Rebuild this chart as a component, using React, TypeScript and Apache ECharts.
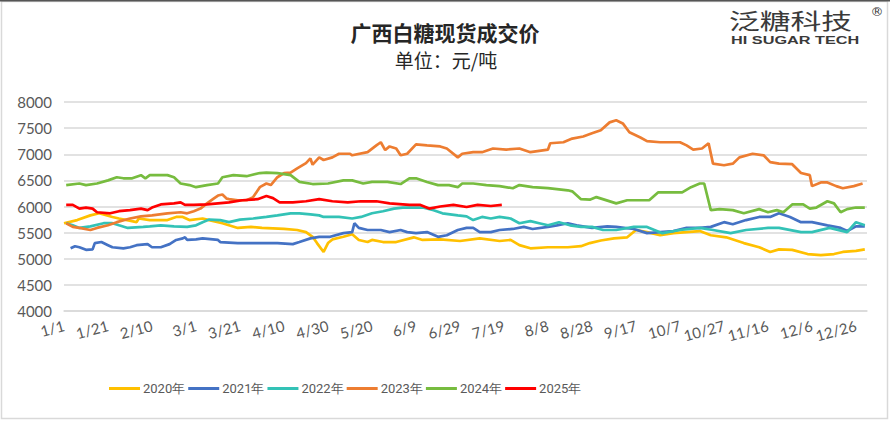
import React, { useEffect, useRef } from "react";
import * as echarts from "echarts";

// Leap-year calendar (366 days), labels every 20 days
const MONTH_DAYS = [31, 29, 31, 30, 31, 30, 31, 31, 30, 31, 30, 31];
const categories: string[] = [];
MONTH_DAYS.forEach((n, m) => {
  for (let d = 1; d <= n; d++) categories.push(`${m + 1}/${d}`);
});

const yTicks = [4000, 8000, 500]; // min, max, interval

const seriesNames = ["2020年", "2021年", "2022年", "2023年", "2024年", "2025年"];
const seriesColors = ["#FFC000", "#4472C4", "#33C2B6", "#ED7D31", "#77BC3F", "#FF0000"];

// [dayIndex, price]
const y2020: [number, number][] = [
  [0, 5680], [6, 5740], [12, 5830], [16, 5870], [22, 5800], [25, 5770], [33, 5700], [34, 5770],
  [39, 5740], [47, 5740], [51, 5800], [54, 5800], [57, 5740], [63, 5770], [66, 5740], [72, 5680],
  [79, 5590], [85, 5610], [90, 5590], [100, 5570], [106, 5550], [110, 5510], [113, 5420], [115, 5300],
  [118, 5130], [120, 5300], [122, 5370], [127, 5420], [131, 5470], [134, 5360], [138, 5320], [140, 5360],
  [145, 5320], [151, 5320], [159, 5410], [163, 5360], [171, 5370], [180, 5340], [189, 5390], [198, 5340],
  [203, 5360], [207, 5260], [212, 5200], [220, 5220], [229, 5220], [235, 5240], [239, 5300], [244, 5350],
  [250, 5390], [256, 5410], [260, 5550], [265, 5510], [271, 5450], [277, 5490], [283, 5510], [289, 5530],
  [294, 5450], [301, 5410], [309, 5300], [316, 5220], [321, 5130], [325, 5180], [331, 5170], [338, 5090],
  [344, 5070], [350, 5090], [354, 5130], [360, 5150], [364, 5180],
];

const y2021: [number, number][] = [
  [3, 5200], [5, 5240], [7, 5220], [10, 5170], [13, 5180], [14, 5300], [17, 5320], [20, 5260],
  [22, 5220], [27, 5200], [30, 5220], [33, 5260], [38, 5280], [40, 5220], [44, 5220], [48, 5280],
  [51, 5360], [54, 5390], [55, 5410], [56, 5360], [60, 5370], [63, 5390], [70, 5360], [71, 5320],
  [79, 5300], [89, 5300], [97, 5300], [104, 5280], [107, 5320], [112, 5390], [116, 5420], [121, 5420],
  [127, 5490], [131, 5510], [132, 5680], [134, 5590], [138, 5550], [144, 5550], [148, 5510], [153, 5550],
  [156, 5510], [160, 5490], [165, 5510], [170, 5420], [174, 5450], [179, 5550], [183, 5590], [186, 5590],
  [189, 5510], [194, 5510], [198, 5550], [204, 5570], [209, 5610], [213, 5570], [220, 5610], [224, 5640],
  [229, 5680], [233, 5640], [240, 5590], [247, 5620], [251, 5610], [259, 5570], [265, 5490], [271, 5510],
  [277, 5530], [283, 5590], [289, 5590], [294, 5610], [300, 5700], [304, 5660], [310, 5740], [316, 5800],
  [321, 5800], [325, 5870], [330, 5800], [335, 5700], [340, 5700], [347, 5640], [353, 5590], [356, 5530],
  [360, 5620], [364, 5620],
];

const y2022: [number, number][] = [
  [1, 5680], [4, 5640], [7, 5590], [12, 5620], [18, 5680], [22, 5680], [25, 5640], [29, 5590],
  [36, 5610], [39, 5620], [44, 5640], [50, 5620], [56, 5610], [60, 5640], [63, 5700], [66, 5750],
  [71, 5740], [75, 5700], [80, 5750], [86, 5770], [92, 5800], [97, 5830], [103, 5870], [107, 5870],
  [112, 5850], [116, 5830], [118, 5800], [125, 5800], [131, 5770], [135, 5800], [140, 5870], [145, 5910],
  [150, 5960], [154, 5980], [159, 5980], [163, 5980], [168, 5930], [172, 5870], [179, 5830], [183, 5810],
  [186, 5740], [190, 5800], [194, 5770], [198, 5800], [203, 5770], [207, 5680], [212, 5720], [216, 5680],
  [220, 5640], [225, 5700], [230, 5640], [235, 5610], [240, 5610], [245, 5550], [251, 5550], [259, 5610],
  [265, 5610], [272, 5490], [280, 5550], [289, 5590], [295, 5550], [303, 5490], [310, 5550], [320, 5590],
  [325, 5590], [335, 5510], [340, 5510], [348, 5590], [356, 5510], [360, 5700], [364, 5640],
];

const y2023: [number, number][] = [
  [1, 5680], [4, 5610], [7, 5590], [12, 5550], [15, 5590], [20, 5640], [24, 5700], [30, 5770],
  [35, 5810], [40, 5830], [47, 5870], [53, 5890], [56, 5870], [59, 5910], [62, 5960], [65, 6060],
  [68, 6150], [70, 6210], [72, 6230], [74, 6150], [75, 6140], [79, 6120], [83, 6120], [86, 6180],
  [89, 6370], [92, 6440], [94, 6410], [97, 6560], [100, 6640], [103, 6650], [106, 6730], [110, 6830],
  [112, 6920], [113, 6800], [116, 6940], [118, 6890], [122, 6940], [125, 7010], [130, 7010], [131, 6980],
  [138, 7040], [142, 7170], [144, 7230], [146, 7080], [148, 7150], [151, 7110], [153, 6980], [156, 7010],
  [160, 7190], [165, 7170], [171, 7150], [174, 7110], [179, 6940], [181, 7010], [186, 7040], [190, 7040],
  [195, 7110], [201, 7090], [207, 7110], [212, 7040], [220, 7090], [221, 7210], [227, 7230], [231, 7300],
  [236, 7340], [240, 7400], [244, 7460], [248, 7610], [251, 7650], [254, 7590], [257, 7420], [262, 7320],
  [265, 7250], [271, 7230], [280, 7230], [283, 7170], [286, 7090], [290, 7110], [293, 7210], [295, 6820],
  [300, 6790], [304, 6820], [307, 6940], [313, 7010], [318, 6980], [321, 6850], [325, 6820], [331, 6810],
  [335, 6640], [339, 6600], [340, 6390], [344, 6460], [347, 6460], [351, 6390], [354, 6350], [359, 6390],
  [363, 6440],
];

const y2024: [number, number][] = [
  [1, 6410], [7, 6440], [10, 6410], [15, 6440], [20, 6500], [24, 6560], [27, 6540], [31, 6540],
  [35, 6600], [37, 6540], [39, 6600], [47, 6600], [50, 6560], [53, 6440], [57, 6410], [60, 6370],
  [65, 6410], [70, 6440], [72, 6560], [77, 6600], [83, 6580], [89, 6640], [92, 6650], [97, 6640],
  [103, 6600], [107, 6470], [113, 6430], [120, 6440], [127, 6500], [131, 6500], [136, 6440], [140, 6470],
  [147, 6470], [153, 6430], [157, 6540], [160, 6540], [165, 6470], [170, 6410], [175, 6410], [179, 6370],
  [181, 6440], [186, 6440], [192, 6410], [198, 6390], [204, 6350], [207, 6410], [213, 6370], [220, 6350],
  [229, 6310], [231, 6290], [235, 6140], [239, 6130], [242, 6180], [251, 6060], [256, 6120], [266, 6120],
  [270, 6270], [281, 6270], [285, 6370], [289, 6440], [291, 6440], [294, 5930], [298, 5950], [304, 5930],
  [309, 5870], [316, 5950], [320, 5890], [324, 5930], [327, 5890], [331, 6040], [336, 6040], [339, 5960],
  [342, 5980], [347, 6100], [350, 6060], [353, 5890], [356, 5950], [360, 5980], [364, 5980],
];

const y2025: [number, number][] = [
  [1, 6030], [4, 6030], [7, 5960], [10, 5980], [13, 5960], [15, 5890], [21, 5870], [25, 5910],
  [30, 5930], [35, 5960], [38, 5930], [40, 5980], [44, 6040], [50, 6060], [53, 6080], [55, 6030],
  [59, 6030], [65, 6040], [70, 6060], [75, 6080], [81, 6120], [88, 6140], [92, 6200], [95, 6160],
  [98, 6080], [104, 6080], [110, 6100], [116, 6140], [122, 6100], [129, 6080], [135, 6100], [142, 6100],
  [148, 6060], [157, 6030], [162, 6030], [166, 5960], [171, 6000], [177, 6030], [183, 5990], [188, 6030],
  [194, 6010], [199, 6030],
];

const seriesData = [y2020, y2021, y2022, y2023, y2024, y2025];

const CJK = "'Noto Sans CJK SC', 'Noto Sans', sans-serif";

export default function App() {
  const ref = useRef<HTMLDivElement>(null);

  useEffect(() => {
    if (!ref.current) return;
    const chart = echarts.init(ref.current, undefined, { renderer: "svg" });
    chart.setOption({
      animation: false,
      backgroundColor: "#ffffff",
      color: seriesColors,
      grid: { left: 64, right: 23, top: 102, bottom: 110, containLabel: false },
      legend: {
        left: 104,
        top: 377,
        icon: "rect",
        itemWidth: 31,
        itemHeight: 3,
        itemGap: 3,
        textStyle: { color: "#595959", fontSize: 13, fontFamily: "Roboto, sans-serif", padding: [0, 0, 0, -2] },
        data: seriesNames,
      },
      xAxis: {
        type: "category",
        data: categories,
        boundaryGap: false,
        axisLine: { show: true, lineStyle: { color: "#d9d9d9", width: 1.5 } },
        axisTick: { show: false },
        axisLabel: {
          interval: 19,
          rotate: 15,
          margin: 14,
          color: "#595959",
          fontSize: 15,
          fontFamily: "Lato, sans-serif",
        },
        splitLine: { show: false },
      },
      yAxis: {
        type: "value",
        min: yTicks[0],
        max: yTicks[1],
        interval: yTicks[2],
        axisLine: { show: false },
        axisTick: { show: false },
        axisLabel: {
          color: "#595959",
          fontSize: 15,
          margin: 12,
          fontFamily: "Lato, sans-serif",
          formatter: (v: number) => String(v),
        },
        splitLine: { lineStyle: { color: "#d9d9d9", width: 1.5 } },
      },
      series: seriesNames.map((name, i) => ({
        name,
        type: "line",
        data: seriesData[i],
        showSymbol: false,
        symbol: "none",
        lineStyle: { width: 2.7, color: seriesColors[i] },
        itemStyle: { color: seriesColors[i] },
        z: 2 + i,
      })),
      graphic: [
        {
          type: "rect",
          shape: { x: 1.5, y: 1.5, width: 886, height: 417 },
          style: { fill: "none", stroke: "#d9d9d9", lineWidth: 1.5 },
          silent: true,
        },
        {
          type: "line",
          shape: { x1: 0, y1: 0.8, x2: 890, y2: 0.8 },
          style: { stroke: "#555555", lineWidth: 1.6 },
          silent: true,
        },
        {
          type: "text",
          x: 445,
          y: 32,
          style: {
            text: "广西白糖现货成交价",
            fontSize: 21,
            fontWeight: "bold",
            fontFamily: CJK,
            fill: "#262626",
            align: "center",
            verticalAlign: "middle",
          },
        },
        {
          type: "text",
          x: 446,
          y: 59,
          style: {
            text: "单位：元/吨",
            fontSize: 19,
            fontFamily: CJK,
            fill: "#262626",
            align: "center",
            verticalAlign: "middle",
          },
        },
        {
          type: "text",
          x: 729,
          y: 20,
          scaleX: 1.4,
          style: {
            text: "泛糖科技",
            fontSize: 22,
            fontFamily: CJK,
            fill: "#3a3a3a",
            align: "left",
            verticalAlign: "middle",
          },
        },
        {
          type: "text",
          x: 731,
          y: 41,
          scaleX: 1.55,
          style: {
            text: "HI SUGAR TECH",
            fontSize: 10.5,
            fontWeight: "bold",
            fontFamily: "'Liberation Sans', Arial, sans-serif",
            fill: "#3a3a3a",
            align: "left",
            verticalAlign: "middle",
          },
        },
        {
          type: "text",
          x: 877,
          y: 11,
          style: {
            text: "®",
            fontSize: 13,
            fontFamily: "'DejaVu Sans', sans-serif",
            fill: "#3a3a3a",
            align: "center",
            verticalAlign: "middle",
          },
        },
      ],
    });
    return () => chart.dispose();
  }, []);

  return (
    <div
      ref={ref}
      style={{ position: "fixed", left: 0, top: 0, width: 890, height: 421 }}
    />
  );
}
